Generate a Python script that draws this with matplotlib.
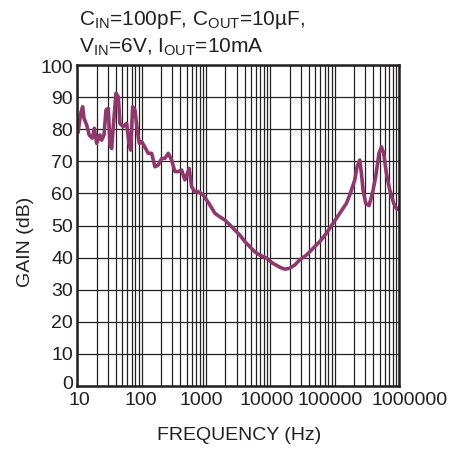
import numpy as np
import matplotlib
matplotlib.use('Agg')
import matplotlib.pyplot as plt
import matplotlib.transforms as mtransforms
from matplotlib.ticker import FixedLocator, FixedFormatter, LogLocator, NullFormatter

plt.rcParams['font.family'] = ['Liberation Sans', 'DejaVu Sans']
plt.rcParams['mathtext.fontset'] = 'custom'
plt.rcParams['mathtext.rm'] = 'Liberation Sans'
plt.rcParams['mathtext.it'] = 'Liberation Sans'

## data
freq_hz = [10.3, 11.3, 12.1, 12.7, 14.0, 15.3, 17.1, 18.4, 20.0, 22.5,
           23.9, 26.0, 27.9, 30.3, 32.2, 34.2, 36.2, 39.9, 43.4, 46.0,
           51.8, 58.5, 63.5, 67.5, 72.4, 78.7, 85.5, 91.8, 100, 112,
           126, 143, 161, 181, 205, 230, 259, 292, 329, 370,
           418, 470, 548, 597, 673, 757, 805, 906, 1151, 1377,
           1644, 1963, 2350, 2812, 3357, 4018, 4808, 5741, 6871, 8730,
           11040, 14060, 16790, 20090, 23990, 28710, 36480, 46240, 58750, 74650,
           94410, 120000, 152400, 171400, 182400, 205600, 222800, 245500, 260600, 276100,
           304100, 342000, 386400, 434500, 488700, 533300, 578100, 636800, 717800, 827900,
           931100, 1000000]
gain_db = [79.2, 85.0, 87.0, 83.4, 81.3, 78.2, 77.2, 80.3, 75.6, 78.2,
           76.6, 78.2, 86.0, 86.5, 75.1, 74.0, 80.8, 91.2, 90.1, 81.8,
           80.8, 81.8, 75.6, 73.5, 87.0, 86.0, 79.8, 75.6, 76.1, 74.5,
           72.5, 72.5, 68.3, 68.8, 70.9, 70.9, 72.5, 70.4, 66.8, 66.8,
           67.3, 64.2, 67.8, 62.1, 60.5, 60.5, 60.2, 59.5, 56.4, 53.8,
           52.7, 51.7, 50.2, 48.6, 47.0, 45.0, 43.4, 41.8, 40.8, 39.8,
           38.2, 37.0, 36.4, 36.7, 37.7, 39.3, 40.8, 42.9, 45.0, 47.6,
           50.7, 53.8, 56.9, 59.5, 61.1, 64.2, 68.3, 70.4, 66.3, 61.1,
           56.9, 56.2, 60.0, 65.2, 72.5, 74.5, 72.5, 66.3, 61.1, 56.9,
           55.0, 55.5]

x_ticks = [10, 100, 1000, 10000, 100000, 1000000]
x_tick_labels = ['10', '100', '1000', '10000', '100000', '1000000']
y_ticks = [0, 10, 20, 30, 40, 50, 60, 70, 80, 90, 100]

ink = '#231f20'

fig = plt.figure(figsize=(4.66, 4.49), dpi=100)
ax = fig.add_axes([0.1659, 0.1403, 0.6903, 0.7149])

ax.plot(freq_hz, gain_db, color='#8f386c', linewidth=2.6, solid_joinstyle='round')

ax.set_xscale('log')
ax.set_xlim(10, 1e6)
ax.set_ylim(0, 100)
ax.xaxis.set_major_locator(FixedLocator(x_ticks))
ax.xaxis.set_major_formatter(FixedFormatter(x_tick_labels))
ax.xaxis.set_minor_locator(LogLocator(base=10, subs=np.arange(2, 10)))
ax.xaxis.set_minor_formatter(NullFormatter())
ax.set_yticks(y_ticks)

ax.grid(True, which='both', axis='x', color='#222222', linewidth=0.9)
ax.grid(True, which='major', axis='y', color='#222222', linewidth=0.9)
ax.tick_params(which='both', length=0, labelsize=14, colors=ink)
ax.tick_params(axis='x', pad=4)
ax.tick_params(axis='y', pad=3)
for s in ax.spines.values():
    s.set_linewidth(1.8)
    s.set_color(ink)

# the tick labels sit a little off their grid lines in the original
def nudge(lbl, dx, dy):
    lbl.set_transform(lbl.get_transform() +
                      mtransforms.ScaledTranslation(dx / 100, dy / 100, fig.dpi_scale_trans))

for lbl, dx in zip(ax.get_xticklabels(), [2, -1, -5, -4, -5, 11]):
    nudge(lbl, dx, 0)
ylbls = ax.get_yticklabels()
nudge(ylbls[0], 0, 4)
nudge(ylbls[-1], 0, -1.5)

fig.text(239/466, 1 - 435/449, 'FREQUENCY (Hz)', fontsize=14, color=ink,
         ha='center', va='center')
fig.text(25/466, 1 - 241.5/449, 'GAIN (dB)', fontsize=14, color=ink,
         ha='center', va='center', rotation=90)

fig.text(79/466, 1 - 25/449, r'C$_{\mathrm{IN}}$=100pF, C$_{\mathrm{OUT}}$=10µF,',
         fontsize=15, color=ink, va='baseline', ha='left')
fig.text(79/466, 1 - 53/449, r'V$_{\mathrm{IN}}$=6V, I$_{\mathrm{OUT}}$=10mA',
         fontsize=15, color=ink, va='baseline', ha='left')

fig.savefig('out.png', dpi=100)
